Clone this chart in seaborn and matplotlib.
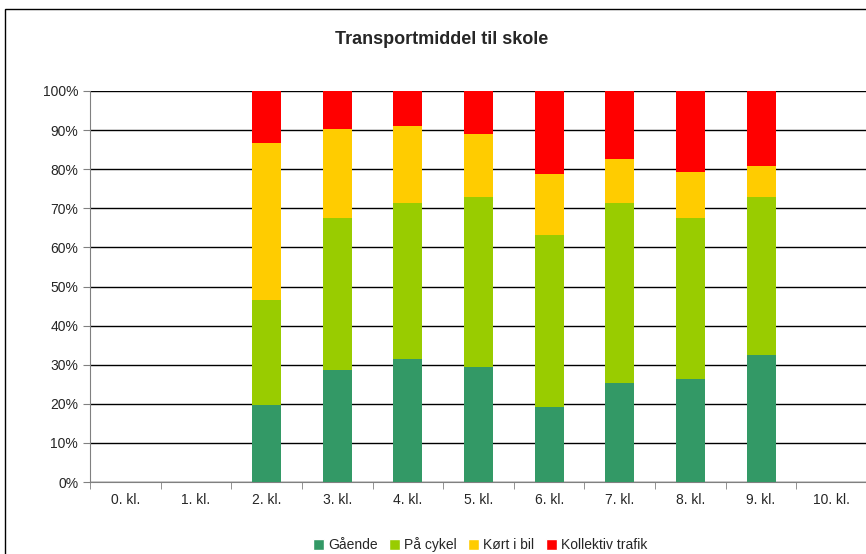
import numpy as np
import pandas as pd
import matplotlib
matplotlib.use("Agg")
import matplotlib.pyplot as plt
import seaborn as sns
from matplotlib.patches import Rectangle
from matplotlib.ticker import PercentFormatter

classes = ["0. kl.", "1. kl.", "2. kl.", "3. kl.", "4. kl.", "5. kl.",
           "6. kl.", "7. kl.", "8. kl.", "9. kl.", "10. kl."]
gaaende = [0, 0, 19.7, 28.6, 31.5, 29.4, 19.2, 25.3, 26.3, 32.5, 0]
cykel = [0, 0, 26.8, 38.9, 39.9, 43.5, 44.0, 46.1, 41.2, 40.4, 0]
bil = [0, 0, 40.2, 22.8, 19.6, 16.1, 15.6, 11.2, 11.8, 7.9, 0]
kollektiv = [0, 0, 13.3, 9.7, 9.0, 11.0, 21.2, 17.4, 20.7, 19.2, 0]

series = ["Gående", "På cykel", "Kørt i bil", "Kollektiv trafik"]
colors = ["#339966", "#99CC00", "#FFCC00", "#FF0000"]

df = pd.DataFrame({"klasse": classes, "Gående": gaaende, "På cykel": cykel,
                   "Kørt i bil": bil, "Kollektiv trafik": kollektiv})
cum = df[series].cumsum(axis=1)
cum["klasse"] = df["klasse"]

sns.set_style("white")
plt.rcParams["font.family"] = ["Liberation Sans", "DejaVu Sans"]

fig = plt.figure(figsize=(8.66, 5.54), dpi=100)
ax = fig.add_axes([90 / 866, 1 - 482 / 554, 777 / 866, 391 / 554])

# draw stacked bars from the top layer down
for name, col in reversed(list(zip(series, colors))):
    sns.barplot(data=cum, x="klasse", y=name, order=classes, color=col,
                width=0.41, saturation=1, linewidth=0, ax=ax, zorder=3)

ax.set_xlim(-0.5, 10.5)
ax.set_ylim(0, 100)
ax.set_yticks(np.arange(0, 101, 10))
ax.yaxis.set_major_formatter(PercentFormatter(decimals=0))
ax.set_xlabel("")
ax.set_ylabel("")
ax.grid(axis="y", color="#000000", linewidth=1, zorder=0)
ax.set_axisbelow(True)
for s in ["top", "right"]:
    ax.spines[s].set_visible(False)
ax.spines["left"].set_color("#808080")
ax.spines["bottom"].set_color("#808080")
ax.tick_params(axis="y", length=5, direction="out", color="#808080", labelsize=10, left=True)
ax.set_xticks(np.arange(11))
ax.set_xticklabels(classes)
ax.set_xticks(np.arange(-0.5, 10.6, 1), minor=True)
ax.tick_params(axis="x", which="major", length=0, labelsize=10, pad=8)
ax.tick_params(axis="x", which="minor", length=5, direction="out", color="#808080", bottom=True)

fig.text(442 / 866, 1 - 40 / 554, "Transportmiddel til skole", ha="center", va="center",
         fontsize=13, fontweight="bold")

handles = [Rectangle((0, 0), 1, 1, facecolor=c) for c in colors]
fig.legend(handles, series, loc="center", bbox_to_anchor=(480 / 866, 1 - 545 / 554),
           ncol=4, frameon=False, fontsize=10, handlelength=0.8, handleheight=0.8,
           handletextpad=0.3, columnspacing=0.8)

fig.patches.append(Rectangle((4.5 / 866, -0.1), 2, 1 - 9 / 554 + 0.1, transform=fig.transFigure,
                             fill=False, edgecolor="black", linewidth=1))

fig.savefig("out.png", dpi=100)
